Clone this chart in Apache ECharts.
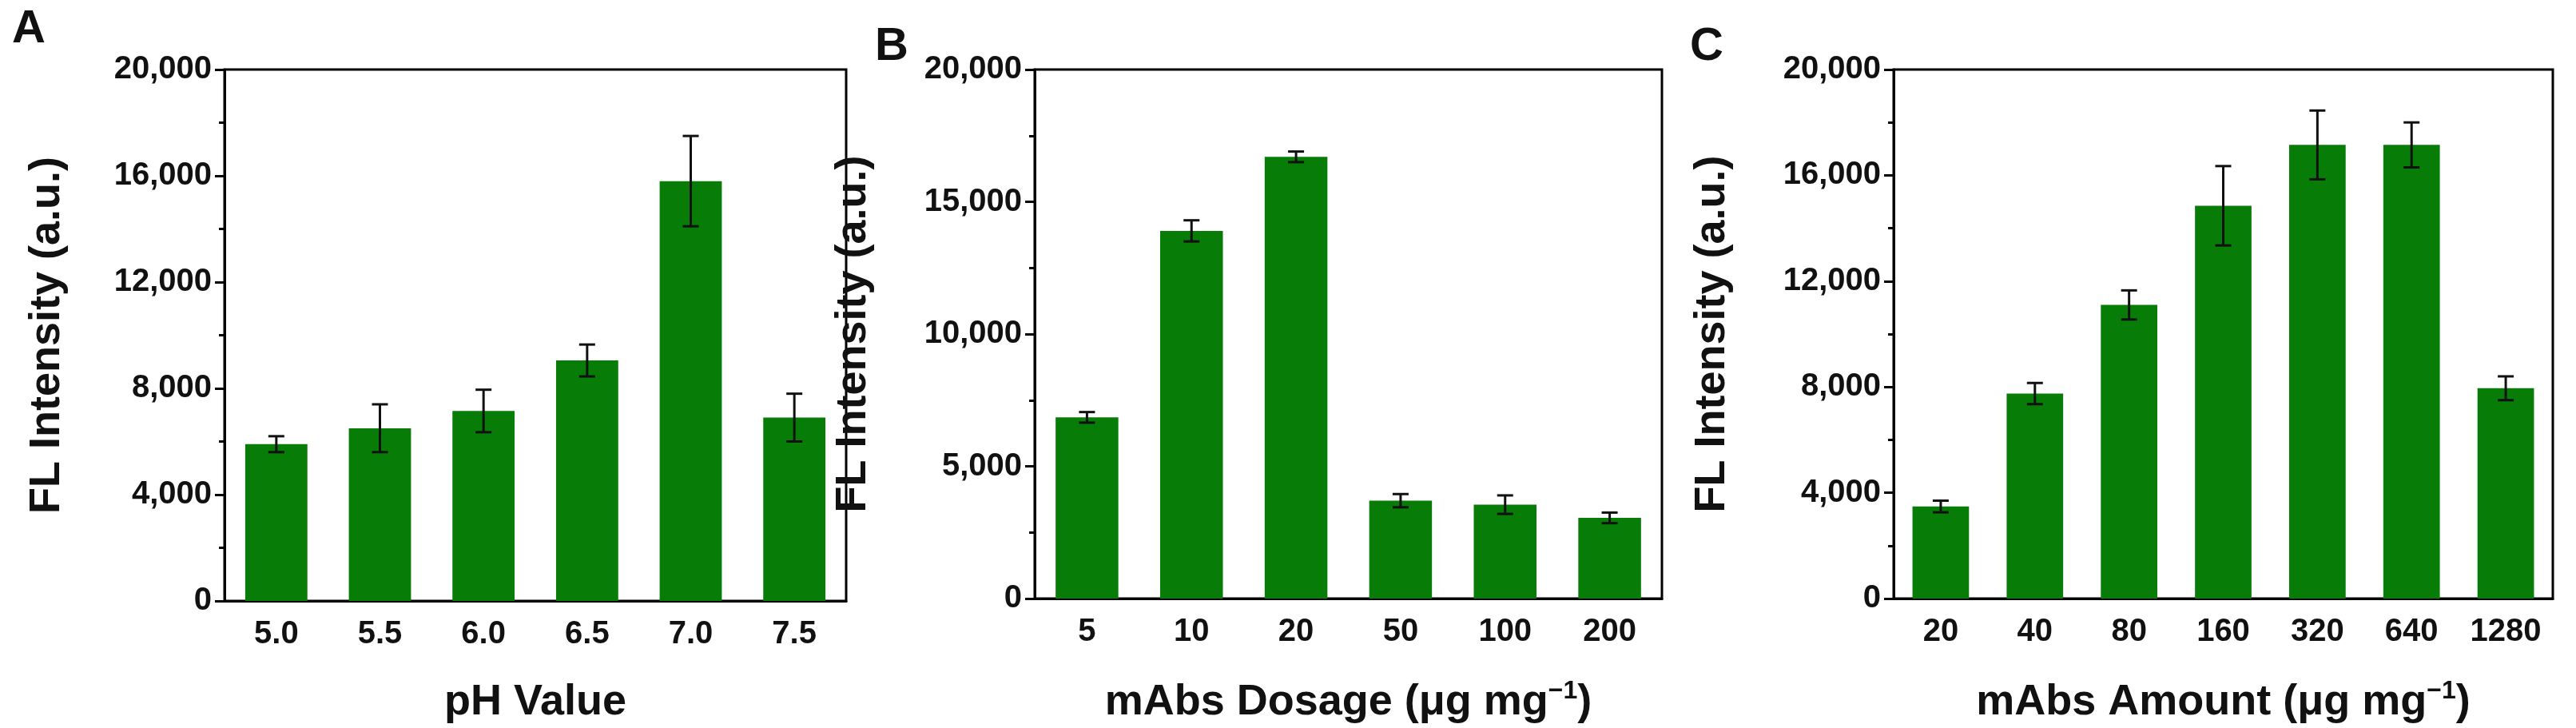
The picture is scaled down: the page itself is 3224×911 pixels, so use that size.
<!DOCTYPE html>
<html>
<head>
<meta charset="utf-8">
<script src="https://cdn.jsdelivr.net/npm/echarts@6/dist/echarts.min.js"></script>
<style>html,body{margin:0;background:#fff}#chart{width:3224px;height:911px}</style>
</head>
<body>
<div id="chart"></div>
<script>
// panel A
var phCats = ['5.0', '5.5', '6.0', '6.5', '7.0', '7.5'];
var phVals = [5900, 6500, 7150, 9050, 15800, 6900];
var phErr = [300, 900, 800, 600, 1700, 900];
// panel B
var dosageCats = ['5', '10', '20', '50', '100', '200'];
var dosageVals = [6850, 13900, 16700, 3700, 3550, 3050];
var dosageErr = [200, 400, 200, 250, 350, 200];
// panel C
var amountCats = ['20', '40', '80', '160', '320', '640', '1280'];
var amountVals = [3480, 7750, 11100, 14850, 17150, 17150, 7950];
var amountErr = [220, 400, 550, 1500, 1300, 850, 450];

var green = '#077c07';
var font = 'Liberation Sans';
var myChart = echarts.init(document.getElementById('chart'));

var grids = [
	{left: 281, width: 778, top: 87, height: 668},
	{left: 1295, width: 785, top: 87, height: 668},
	{left: 2370, width: 825, top: 87, height: 668}
];
grids.forEach(function(g) {
	g.show = true; g.borderColor = '#000'; g.borderWidth = 3;
});

function xAxis(idx, cats, name) {
	return {
		gridIndex: idx, type: 'category', data: cats,
		axisLine: {lineStyle: {color: '#000', width: 3}},
		axisTick: {alignWithLabel: true, length: 12, lineStyle: {width: 3}},
		axisLabel: {color: '#111', fontFamily: font, fontWeight: 'bold', fontSize: 40, margin: 22},
		name: name, nameLocation: 'middle', nameGap: 100,
		nameTextStyle: {
			fontFamily: font, fontWeight: 'bold', fontSize: 54, color: '#111',
			rich: {
				a: {fontFamily: font, fontWeight: 'bold', fontSize: 54, color: '#111'},
				s: {fontFamily: font, fontWeight: 'bold', fontSize: 32, color: '#111', padding: [0, 0, 28, 0]}
			}
		}
	};
}
function yAxis(idx, interval, minorSplit) {
	return {
		gridIndex: idx, type: 'value', min: 0, max: 20000, interval: interval,
		axisLine: {show: true, lineStyle: {color: '#000', width: 3}},
		axisTick: {show: true, length: 12, lineStyle: {width: 3}},
		minorTick: {show: true, splitNumber: minorSplit, length: 7, lineStyle: {color: '#000', width: 3}},
		splitLine: {show: false},
		axisLabel: {color: '#111', fontFamily: font, fontWeight: 'bold', fontSize: 40, margin: 16},
		name: 'FL Intensity (a.u.)', nameLocation: 'middle', nameGap: idx === 0 ? 195 : 200,
		nameTextStyle: {fontFamily: font, fontWeight: 'bold', fontSize: 54, color: '#111'}
	};
}

function barSeries(idx, vals) {
	return {type: 'bar', xAxisIndex: idx, yAxisIndex: idx, data: vals, barWidth: '60%',
		itemStyle: {color: green}};
}
function errSeries(idx, vals, errs) {
	var data = vals.map(function(v, i) { return [i, v - errs[i], v + errs[i]]; });
	return {
		type: 'custom', xAxisIndex: idx, yAxisIndex: idx, data: data, z: 10,
		renderItem: function(params, api) {
			var lo = api.coord([api.value(0), api.value(1)]);
			var hi = api.coord([api.value(0), api.value(2)]);
			var w = 10;
			var st = {stroke: '#111', lineWidth: 3};
			return {type: 'group', children: [
				{type: 'line', shape: {x1: lo[0], y1: lo[1], x2: hi[0], y2: hi[1]}, style: st},
				{type: 'line', shape: {x1: lo[0] - w, y1: lo[1], x2: lo[0] + w, y2: lo[1]}, style: st},
				{type: 'line', shape: {x1: hi[0] - w, y1: hi[1], x2: hi[0] + w, y2: hi[1]}, style: st}
			]};
		}
	};
}

option = {
	animation: false,
	grid: grids,
	graphic: [
		{type: 'text', left: 15, top: 8, style: {text: 'A', fontFamily: font, fontWeight: 'bold', fontSize: 58, fill: '#111'}},
		{type: 'text', left: 1095, top: 30, style: {text: 'B', fontFamily: font, fontWeight: 'bold', fontSize: 58, fill: '#111'}},
		{type: 'text', left: 2115, top: 30, style: {text: 'C', fontFamily: font, fontWeight: 'bold', fontSize: 58, fill: '#111'}}
	],
	xAxis: [
		xAxis(0, phCats, 'pH Value'),
		xAxis(1, dosageCats, '{a|mAbs Dosage (μg mg}{s|−1}{a|)}'),
		xAxis(2, amountCats, '{a|mAbs Amount (μg mg}{s|−1}{a|)}')
	],
	yAxis: [yAxis(0, 4000, 2), yAxis(1, 5000, 2), yAxis(2, 4000, 2)],
	series: [
		barSeries(0, phVals), errSeries(0, phVals, phErr),
		barSeries(1, dosageVals), errSeries(1, dosageVals, dosageErr),
		barSeries(2, amountVals), errSeries(2, amountVals, amountErr)
	]
};
myChart.setOption(option);
</script>
</body>
</html>
